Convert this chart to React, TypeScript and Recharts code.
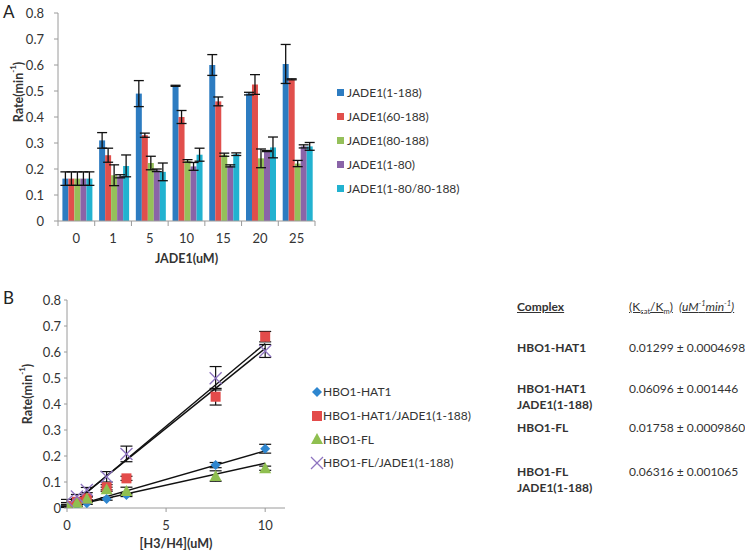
import React from 'react';
import {
  BarChart, Bar, XAxis, YAxis, ErrorBar, ComposedChart, Scatter, Line,
} from 'recharts';

// ---------- Panel A data ----------
const categoriesA = ['0', '1', '5', '10', '15', '20', '25'];
const seriesNamesA = ['JADE1(1-188)', 'JADE1(60-188)', 'JADE1(80-188)', 'JADE1(1-80)', 'JADE1(1-80/80-188)'];
const jade1_188 = [0.163, 0.31, 0.49, 0.52, 0.6, 0.49, 0.604];
const jade1_188Err = [0.026, 0.03, 0.05, 0.002, 0.04, 0.005, 0.075];
const jade60_188 = [0.163, 0.253, 0.33, 0.4, 0.46, 0.525, 0.545];
const jade60_188Err = [0.026, 0.027, 0.008, 0.025, 0.017, 0.038, 0.002];
const jade80_188 = [0.163, 0.176, 0.223, 0.231, 0.255, 0.241, 0.221];
const jade80_188Err = [0.026, 0.04, 0.026, 0.005, 0.006, 0.036, 0.012];
const jade1_80 = [0.163, 0.172, 0.195, 0.21, 0.212, 0.269, 0.287];
const jade1_80Err = [0.026, 0.006, 0.005, 0.015, 0.004, 0.002, 0.006];
const jadeMix = [0.163, 0.212, 0.189, 0.255, 0.257, 0.283, 0.287];
const jadeMixErr = [0.026, 0.042, 0.034, 0.025, 0.005, 0.04, 0.015];
const yTicksA = [0, 0.1, 0.2, 0.3, 0.4, 0.5, 0.6, 0.7, 0.8];

// ---------- Panel B data ----------
const concB = [0, 0.5, 1, 2, 3, 7.5, 10];
const seriesNamesB = ['HBO1-HAT1', 'HBO1-HAT1/JADE1(1-188)', 'HBO1-FL', 'HBO1-FL/JADE1(1-188)'];
const hat1 = [0.005, 0.01, 0.018, 0.035, 0.05, 0.165, 0.228];
const hat1Err = [0.003, 0.003, 0.004, 0.005, 0.006, 0.01, 0.017];
const hat1Jade = [0.008, 0.024, 0.037, 0.08, 0.114, 0.428, 0.659];
const hat1JadeErr = [0.004, 0.005, 0.006, 0.01, 0.008, 0.032, 0.02];
const fl = [0.01, 0.02, 0.037, 0.072, 0.065, 0.123, 0.153];
const flErr = [0.004, 0.004, 0.006, 0.008, 0.015, 0.02, 0.008];
const flJade = [0.027, 0.044, 0.069, 0.12, 0.208, 0.499, 0.604];
const flJadeErr = [0.006, 0.008, 0.01, 0.02, 0.03, 0.045, 0.025];
const fitX = [0, 10];
const hat1Fit = [0.0, 0.22];
const hat1JadeFit = [-0.004, 0.633];
const flFit = [0.004, 0.172];
const flJadeFit = [0.0, 0.614];
const yTicksB = [0, 0.1, 0.2, 0.3, 0.4, 0.5, 0.6, 0.7, 0.8];
const xTicksB = [0, 5, 10];

// ---------- Table data ----------
const tableComplex = [['HBO1-HAT1'], ['HBO1-HAT1', 'JADE1(1-188)'], ['HBO1-FL'], ['HBO1-FL', 'JADE1(1-188)']];
const tableValues = ['0.01299 ± 0.0004698', '0.06096 ± 0.001446', '0.01758 ± 0.0009860', '0.06316 ± 0.001065'];

const colorsA = ['#2d7cc1', '#e14f4c', '#95c05a', '#8a64a8', '#22b2d0'];
const colorsB = ['#2e86cf', '#e34b4a', '#8fbf50', '#8e74c0'];

const FONT = 'Lato, "Open Sans", sans-serif';
const TXT = '#333333';
const AXIS = '#9a9a9a';

const dataA = categoriesA.map((c, i) => ({
  cat: c,
  s0: jade1_188[i], e0: jade1_188Err[i],
  s1: jade60_188[i], e1: jade60_188Err[i],
  s2: jade80_188[i], e2: jade80_188Err[i],
  s3: jade1_80[i], e3: jade1_80Err[i],
  s4: jadeMix[i], e4: jadeMixErr[i],
}));

const mk = (ys: number[], es: number[]) => concB.map((x, i) => ({ x, y: ys[i], err: es[i] }));
const seriesB = [mk(hat1, hat1Err), mk(hat1Jade, hat1JadeErr), mk(fl, flErr), mk(flJade, flJadeErr)];
const fits = [hat1Fit, hat1JadeFit, flFit, flJadeFit].map((f) => fitX.map((x, i) => ({ x, y: f[i] })));

const PLOT_A_LEFT = 58;
const PLOT_A_RIGHT = 315;
const BAND_A = (PLOT_A_RIGHT - PLOT_A_LEFT) / categoriesA.length;

const TickA = (props: any) => {
  const { x, y, payload, index } = props;
  const half = BAND_A / 2;
  return (
    <g>
      <line x1={x - half} x2={x - half} y1={y - 13} y2={y - 8} stroke={AXIS} />
      {index === categoriesA.length - 1 && (
        <line x1={x + half} x2={x + half} y1={y - 13} y2={y - 8} stroke={AXIS} />
      )}
      <text x={x} y={y} dy="0.71em" textAnchor="middle" fill={TXT} fontSize={13} fontFamily={FONT}>
        {payload.value}
      </text>
    </g>
  );
};

const RotLabel = ({ x, y }: { x: number; y: number }) => (
  <text x={x} y={y} transform={`rotate(-90, ${x}, ${y})`} textAnchor="middle" dominantBaseline="central"
    fontFamily={FONT} fontSize={12.5} fontWeight="bold" fill={TXT}>
    Rate(min<tspan baselineShift="super" fontSize={8}>-1</tspan>)
  </text>
);

const Diamond = (p: any) => {
  const { cx, cy, fill } = p;
  const r = 5;
  return <polygon points={`${cx},${cy - r} ${cx + r},${cy} ${cx},${cy + r} ${cx - r},${cy}`} fill={fill} />;
};
const Square = (p: any) => {
  const { cx, cy, fill } = p;
  return <rect x={cx - 5} y={cy - 5} width={10} height={10} fill={fill} />;
};
const Triangle = (p: any) => {
  const { cx, cy, fill } = p;
  return <polygon points={`${cx},${cy - 6} ${cx + 6},${cy + 5} ${cx - 6},${cy + 5}`} fill={fill} />;
};
const Cross = (p: any) => {
  const { cx, cy, fill } = p;
  const r = 6;
  return (
    <g stroke={fill} strokeWidth={1.3}>
      <line x1={cx - r} y1={cy - r} x2={cx + r} y2={cy + r} />
      <line x1={cx - r} y1={cy + r} x2={cx + r} y2={cy - r} />
    </g>
  );
};
const shapesB = [Diamond, Square, Triangle, Cross];

const LegendMarkB = ({ i, color }: { i: number; color: string }) => {
  const S = shapesB[i];
  return (
    <svg width={14} height={14} style={{ display: 'block' }}>
      <S cx={7} cy={7} fill={color} />
    </svg>
  );
};

export default function App() {
  return (
    <div style={{ position: 'absolute', left: 0, top: 0, width: 745, height: 553, background: '#fff', overflow: 'hidden', fontFamily: FONT, color: TXT }}>
      {/* Panel letters */}
      <div style={{ position: 'absolute', left: 3, top: 1, fontSize: 17, color: '#222' }}>A</div>
      <div style={{ position: 'absolute', left: 3, top: 287, fontSize: 17, color: '#222' }}>B</div>

      {/* Panel A */}
      <div style={{ position: 'absolute', left: 0, top: 0 }}>
        <BarChart width={330} height={275} data={dataA} margin={{ top: 13, right: 330 - PLOT_A_RIGHT, bottom: 24, left: 0 }}
          barCategoryGap="12%" barGap={0}>
          <XAxis dataKey="cat" height={30} tickSize={5} tickMargin={8} tickLine={false} axisLine={{ stroke: AXIS }}
            tick={<TickA />} interval={0}
            label={{ value: 'JADE1(uM)', position: 'bottom', offset: 3, fill: TXT, fontSize: 12.5, fontWeight: 'bold', fontFamily: FONT }} />
          <YAxis width={PLOT_A_LEFT} domain={[0, 0.8]} ticks={yTicksA} interval={0} tickSize={4} tickMargin={10}
            axisLine={{ stroke: AXIS }} tickLine={{ stroke: AXIS }}
            tick={{ fill: TXT, fontSize: 13, fontFamily: FONT }}
            label={{ content: () => <RotLabel x={18} y={92} /> }} />
          {[0, 1, 2, 3, 4].map((k) => (
            <Bar key={k} dataKey={`s${k}`} fill={colorsA[k]} isAnimationActive={false}>
              <ErrorBar dataKey={`e${k}`} width={5} stroke="#111" strokeWidth={1.3} />
            </Bar>
          ))}
        </BarChart>
      </div>

      {/* Legend A */}
      <div style={{ position: 'absolute', left: 337, top: 80 }}>
        {seriesNamesA.map((n, i) => (
          <div key={n} style={{ display: 'flex', alignItems: 'center', height: 24, fontSize: 12, whiteSpace: 'nowrap' }}>
            <span style={{ display: 'inline-block', width: 7, height: 7, background: colorsA[i], marginRight: 3 }} />
            <span>{n}</span>
          </div>
        ))}
      </div>

      {/* Panel B */}
      <div style={{ position: 'absolute', left: 0, top: 280 }}>
        <ComposedChart width={300} height={273} margin={{ top: 20, right: 15, bottom: 15, left: 0 }}>
          <XAxis type="number" dataKey="x" domain={[0, 11]} ticks={xTicksB} interval={0} height={30}
            tickSize={4} tickMargin={9} axisLine={{ stroke: AXIS }} tickLine={{ stroke: AXIS }}
            tick={{ fill: TXT, fontSize: 13, fontFamily: FONT }} allowDataOverflow
            label={{ value: '[H3/H4](uM)', position: 'bottom', offset: 1, fill: TXT, fontSize: 12.5, fontWeight: 'bold', fontFamily: FONT }} />
          <YAxis type="number" dataKey="y" width={67} domain={[0, 0.8]} ticks={yTicksB} interval={0}
            tickSize={3} tickMargin={3} axisLine={{ stroke: AXIS }} tickLine={{ stroke: AXIS }}
            tick={{ fill: TXT, fontSize: 13, fontFamily: FONT }} allowDataOverflow
            label={{ content: () => <RotLabel x={27} y={114} /> }} />
          {seriesB.map((d, i) => (
            <Scatter key={seriesNamesB[i]} name={seriesNamesB[i]} data={d} dataKey="y" fill={colorsB[i]}
              shape={shapesB[i]} isAnimationActive={false}>
              <ErrorBar dataKey="err" direction="y" width={6} stroke="#111" strokeWidth={1.2} />
            </Scatter>
          ))}
          {fits.map((f, i) => (
            <Line key={`fit${i}`} data={f} dataKey="y" type="linear" stroke="#111" strokeWidth={1.4}
              dot={false} activeDot={false} isAnimationActive={false} legendType="none" />
          ))}
        </ComposedChart>
      </div>

      {/* Legend B */}
      <div style={{ position: 'absolute', left: 310, top: 380 }}>
        {seriesNamesB.map((n, i) => (
          <div key={n} style={{ display: 'flex', alignItems: 'center', height: 23.7, fontSize: 12, whiteSpace: 'nowrap' }}>
            <LegendMarkB i={i} color={colorsB[i]} />
            <span style={{ marginLeft: -1 }}>{n}</span>
          </div>
        ))}
      </div>

      {/* Table */}
      <div style={{ position: 'absolute', left: 517, top: 299, fontSize: 12, fontWeight: 'bold', textDecoration: 'underline', whiteSpace: 'nowrap' }}>Complex</div>
      <div style={{ position: 'absolute', left: 629, top: 299, fontSize: 12, whiteSpace: 'nowrap' }}>
        <span style={{ textDecoration: 'underline' }}>(K<sub style={{ fontSize: 7.5 }}>cat</sub>/K<sub style={{ fontSize: 7.5 }}>m</sub>)</span>
        {'\u00a0\u00a0'}
        <span style={{ textDecoration: 'underline', fontStyle: 'italic' }}>(uM<sup style={{ fontSize: 7.5 }}>-1</sup>min<sup style={{ fontSize: 7.5 }}>-1</sup>)</span>
      </div>
      {tableComplex.map((lines, i) => {
        const tops = [340, 381, 420, 464];
        return (
          <React.Fragment key={i}>
            <div style={{ position: 'absolute', left: 517, top: tops[i], fontSize: 12, fontWeight: 'bold', lineHeight: '16px', whiteSpace: 'nowrap' }}>
              {lines.map((l, j) => <div key={j}>{l}</div>)}
            </div>
            <div style={{ position: 'absolute', left: 629, top: tops[i], fontSize: 12, lineHeight: '16px', whiteSpace: 'nowrap' }}>
              {tableValues[i]}
            </div>
          </React.Fragment>
        );
      })}
    </div>
  );
}
